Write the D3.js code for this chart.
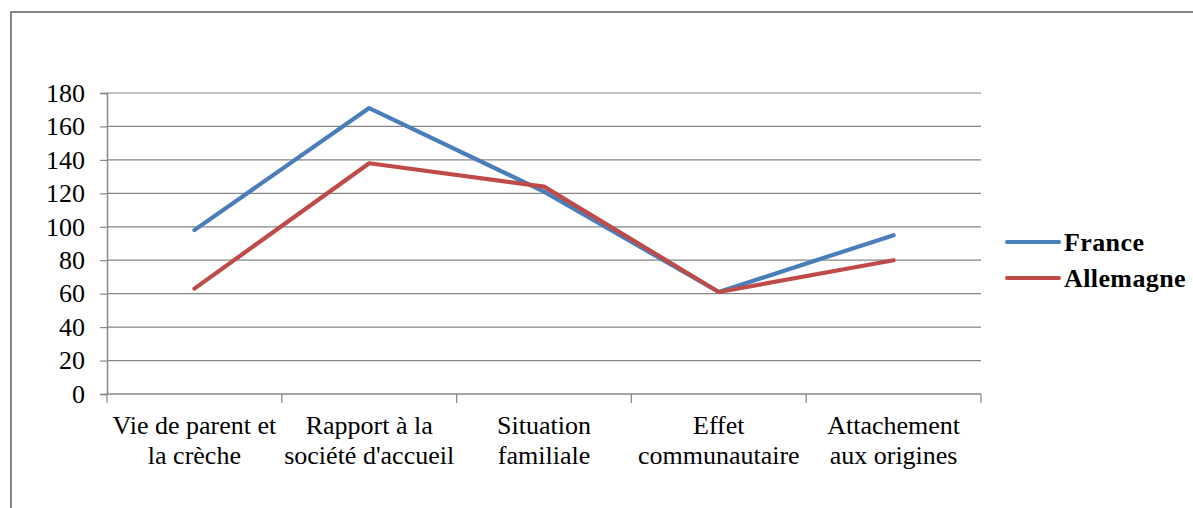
<!DOCTYPE html>
<html><head><meta charset="utf-8">
<script src="https://cdn.jsdelivr.net/npm/d3@7"></script>
<style>
html,body{margin:0;padding:0;background:#fff;}
</style></head>
<body>
<svg id="chart" width="1193" height="508" style="display:block"></svg>
<script>
const categories = [
  ["Vie de parent et", "la crèche"],
  ["Rapport à la", "société d'accueil"],
  ["Situation", "familiale"],
  ["Effet", "communautaire"],
  ["Attachement", "aux origines"]
];
const franceValues = [98, 171, 121, 61, 95];
const allemagneValues = [63, 138, 124, 61, 80];
const seriesNames = ["France", "Allemagne"];
const seriesColors = ["#4a7ebb", "#be4b48"];
const yTicks = [0, 20, 40, 60, 80, 100, 120, 140, 160, 180];

const FONT = "Liberation Serif";
const svg = d3.select("#chart");
const W = 1193, H = 508;
const margin = {left: 107, right: W - 981, top: 93, bottom: H - 394};

// frame (only top and left edges visible)
svg.append("rect").attr("x", 11).attr("y", 12).attr("width", 1300).attr("height", 600)
  .attr("fill", "none").attr("stroke", "#868686").attr("stroke-width", 2);

const x = d3.scaleBand().domain(d3.range(categories.length))
  .range([margin.left, W - margin.right]).padding(0);
const y = d3.scaleLinear().domain([0, 180]).range([H - margin.bottom, margin.top]);

// gridlines
svg.append("g").selectAll("line").data(yTicks.filter(d => d > 0)).join("line")
  .attr("x1", margin.left).attr("x2", W - margin.right)
  .attr("y1", d => y(d)).attr("y2", d => y(d))
  .attr("stroke", "#868686").attr("stroke-width", 1.2);

// y axis
const yAxis = svg.append("g").attr("transform", `translate(${margin.left},0)`)
  .call(d3.axisLeft(y).tickValues(yTicks).tickSize(7).tickPadding(15))
  .attr("font-family", FONT).attr("font-size", 26);
yAxis.select(".domain").attr("stroke", "#868686").attr("stroke-width", 1.5);
yAxis.selectAll(".tick line").attr("stroke", "#868686").attr("stroke-width", 1.2);
yAxis.selectAll(".tick text").attr("fill", "#000")
  .attr("font-family", FONT).attr("font-size", 26)
  .style("font-family", FONT).style("font-size", "26px");

// x axis
const boundaries = d3.range(categories.length + 1).map(i => margin.left + i * x.step());
const xg = svg.append("g");
xg.append("line").attr("x1", margin.left).attr("x2", W - margin.right)
  .attr("y1", y(0)).attr("y2", y(0)).attr("stroke", "#868686").attr("stroke-width", 1.5);
xg.selectAll("line.tk").data(boundaries).join("line").attr("class", "tk")
  .attr("x1", d => d).attr("x2", d => d).attr("y1", y(0)).attr("y2", y(0) + 9)
  .attr("stroke", "#868686").attr("stroke-width", 1.2);
categories.forEach((lines, i) => {
  lines.forEach((t, j) => {
    xg.append("text").attr("text-anchor", "middle").attr("fill", "#000")
      .attr("font-family", FONT).attr("font-size", 26)
      .style("font-family", FONT).style("font-size", "26px")
      .attr("x", x(i) + x.bandwidth() / 2).attr("y", 434 + j * 30).text(t);
  });
});

// lines
const series = [franceValues, allemagneValues];
const line = d3.line().x((d, i) => x(i) + x.bandwidth() / 2).y(d => y(d));
series.forEach((vals, k) => {
  svg.append("path").datum(vals).attr("d", line).attr("fill", "none")
    .attr("stroke", seriesColors[k]).attr("stroke-width", 4.2)
    .attr("stroke-linejoin", "round").attr("stroke-linecap", "round");
});

// legend
const lg = svg.append("g");
seriesNames.forEach((name, k) => {
  const ly = 242 + k * 36;
  lg.append("line").attr("x1", 1007).attr("x2", 1059).attr("y1", ly).attr("y2", ly)
    .attr("stroke", seriesColors[k]).attr("stroke-width", 4.2).attr("stroke-linecap", "round");
  lg.append("text").attr("x", 1064).attr("y", ly + 9).attr("fill", "#000")
    .attr("font-family", FONT).attr("font-size", 26).attr("font-weight", "bold")
    .style("font-family", FONT).style("font-size", "26px").style("font-weight", "bold")
    .style("letter-spacing", "0.4px").text(name);
});
</script>
</body></html>
